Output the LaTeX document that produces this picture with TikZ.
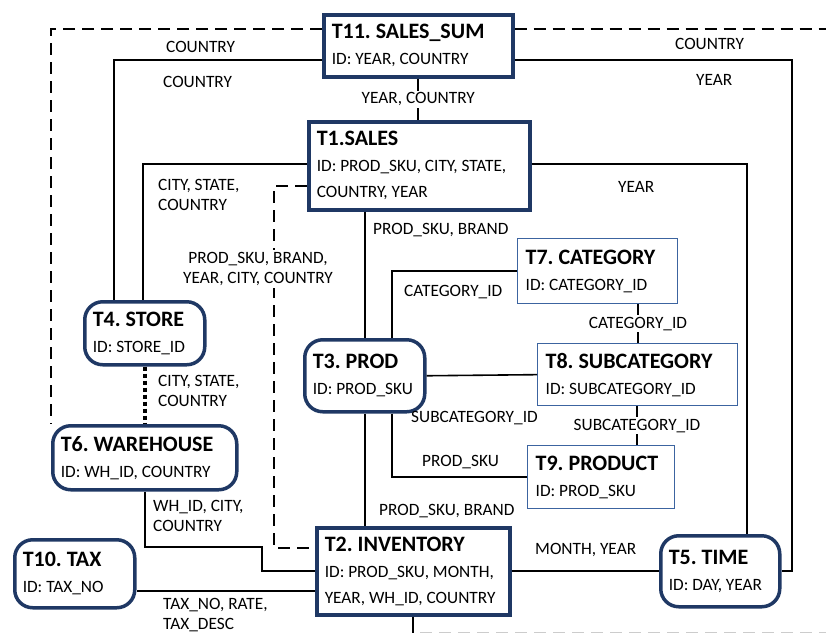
\documentclass[tikz,border=0pt]{standalone}
\usepackage{fontspec}
\setmainfont{Carlito}
\usetikzlibrary{calc}
\definecolor{navy}{HTML}{1F3864}
\definecolor{steel}{HTML}{3C64A0}
\newcommand{\bfs}{\fontsize{17.3}{26}\selectfont\frenchspacing}
\newcommand{\lfs}{\fontsize{17.3}{20.5}\selectfont\frenchspacing}
\newcommand{\tfs}{\fontsize{22}{26}\selectfont\bfseries}

\begin{document}
\begin{tikzpicture}[x=1pt,y=-1pt,
  tbl/.style={draw=navy,line width=3.5pt,fill=white,anchor=north west,inner xsep=8pt,inner ysep=0pt,align=flush left,font=\bfs},
  rtbl/.style={tbl,rounded corners=18pt},
  ltbl/.style={tbl,draw=steel,line width=1.3pt},
  lbl/.style={font=\lfs,inner sep=0pt,anchor=north west,align=left},
  mid/.style={font=\lfs,fill=white,inner sep=2pt},
  con/.style={line width=1.6pt},
  dsh/.style={con,dash pattern=on 12pt off 7pt},
  dtd/.style={line width=3.5pt,dash pattern=on 4pt off 3pt}]

\useasboundingbox (0,0) rectangle (826,633);

\node[tbl,text width=173pt,minimum height=62pt] (t11) at (322,13) {{\tfs T11. SALES\_SUM}\\ID: YEAR, COUNTRY};
\node[tbl,text width=205pt,minimum height=88pt] (t1) at (307,120) {{\tfs T1.SALES}\\ID: PROD\_SKU, CITY, STATE,\\COUNTRY, YEAR};
\node[ltbl,text width=144pt,minimum height=65pt] (t7) at (517,238) {{\tfs T7. CATEGORY}\\ID: CATEGORY\_ID};
\node[ltbl,text width=184pt,minimum height=62pt] (t8) at (537,343) {{\tfs T8. SUBCATEGORY}\\ID: SUBCATEGORY\_ID};
\node[ltbl,text width=131pt,minimum height=63pt] (t9) at (527,445) {{\tfs T9. PRODUCT}\\ID: PROD\_SKU};
\node[rtbl,text width=104pt,minimum height=72pt] (t3) at (303,338) {{\tfs T3. PROD}\\ID: PROD\_SKU};
\node[tbl,text width=177pt,minimum height=87pt] (t2) at (315,526) {{\tfs T2. INVENTORY}\\ID: PROD\_SKU, MONTH,\\YEAR, WH\_ID, COUNTRY};
\node[rtbl,text width=103pt,minimum height=71pt] (t5) at (659,534) {{\tfs T5. TIME}\\ID: DAY, YEAR};
\node[rtbl,text width=104pt,minimum height=63pt] (t4) at (83,300) {{\tfs T4. STORE}\\ID: STORE\_ID};
\node[rtbl,text width=168pt,minimum height=64pt] (t6) at (51,424) {{\tfs T6. WAREHOUSE}\\ID: WH\_ID, COUNTRY};
\node[rtbl,text width=104pt,minimum height=68pt] (t10) at (13,538) {{\tfs T10. TAX}\\ID: TAX\_NO};

\coordinate (e1) at (826,29);
\coordinate (e2) at (413,633);
\coordinate (e3) at (420,632);
\coordinate (e4) at (826,632);

\draw[dsh] (t11.west |- 0,29) -| (t6.north west);
\draw[dsh] (t11.east |- 0,29) -- (e1);
\draw[con] (t11.west |- 0,60) -| (114,0 |- t4.north);
\draw[con] (t11.east |- 0,60) -| (792,0 |- t5.east) -- (t5.east);
\draw[con] (t11.south) -- (t11.south |- t1.north) node[mid,midway] {YEAR, COUNTRY};
\draw[con] (t1.west |- 0,164) -| (143,0 |- t4.north);
\draw[dsh] (t1.west |- 0,186) -| (274,548) -- (t2.west |- 0,548);
\draw[con] (t1.east |- 0,164) -| (747,0 |- t5.north);
\draw[con] (t1.south -| t3.north) -- (t3.north);
\draw[con] (t3.north -| 392,0) |- (t7.west);
\draw[con] (t7.south -| 638,0) -- (638,0 |- t8.north) node[mid,midway] {CATEGORY\_ID};
\draw[con] (t3.east) -- (t8.west);
\draw[con] (t8.south -| 637,0) -- (637,0 |- t9.north) node[mid,midway] {SUBCATEGORY\_ID};
\draw[con] (t3.south -| 392,0) |- (t9.west);
\draw[con] (t3.south) -- (t3.south |- t2.north);
\draw[con] (t2.east) -- (t5.west);
\draw[dtd] (t4.south) -- (t4.south |- t6.north);
\draw[con] (t6.south) |- (262,547) |- (t2.west);
\draw[con] (t10.east |- 0,591) -- (t2.west |- 0,591);
\draw[con] (t2.south -| e2) -- (e2);
\draw[dsh,gray!40,line width=1pt] (e3) -- (e4);

\node[lbl] at (166,41) {COUNTRY};
\node[lbl] at (163,76) {COUNTRY};
\node[lbl] at (675,38) {COUNTRY};
\node[lbl] at (696,74) {YEAR};
\node[lbl] at (158,179) {CITY, STATE,\\COUNTRY};
\node[mid,align=center] at (258,269) {PROD\_SKU, BRAND,\\YEAR, CITY, COUNTRY};
\node[lbl] at (618,181) {YEAR};
\node[lbl] at (373,223) {PROD\_SKU, BRAND};
\node[lbl] at (404,285) {CATEGORY\_ID};
\node[lbl] at (411,411) {SUBCATEGORY\_ID};
\node[lbl] at (422,455) {PROD\_SKU};
\node[lbl] at (379,504) {PROD\_SKU, BRAND};
\node[lbl] at (535,543) {MONTH, YEAR};
\node[lbl] at (158,375) {CITY, STATE,\\COUNTRY};
\node[lbl] at (153,500) {WH\_ID, CITY,\\COUNTRY};
\node[lbl] at (163,598) {TAX\_NO, RATE,\\TAX\_DESC};

\end{tikzpicture}
\end{document}
